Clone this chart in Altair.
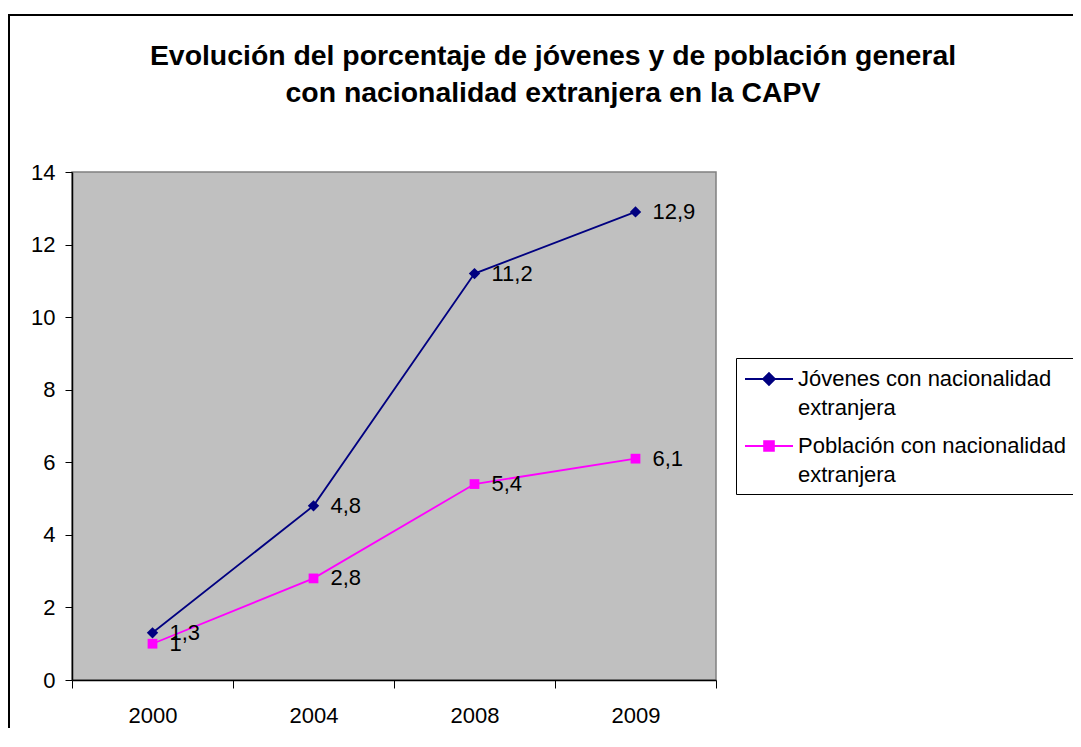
import altair as alt
import pandas as pd

# ---- data ----
years = ["2000", "2004", "2008", "2009"]
jovenes = [1.3, 4.8, 11.2, 12.9]
poblacion = [1.0, 2.8, 5.4, 6.1]
series = ["Jóvenes con nacionalidad extranjera", "Población con nacionalidad extranjera"]
colors = ["#000080", "#FF00FF"]
title_lines = ["Evolución del porcentaje de jóvenes y de población general",
               "con nacionalidad extranjera en la CAPV"]
y_ticks = [0, 2, 4, 6, 8, 10, 12, 14]

df = pd.DataFrame({
    "anio": years * 2,
    "serie": [series[0]] * len(years) + [series[1]] * len(years),
    "valor": jovenes + poblacion,
})
single = pd.DataFrame({"k": [0]})

FONT = "Liberation Sans"
FS = 22

x = alt.X("anio:N", sort=years, title=None,
          scale=alt.Scale(type="band", domain=years, paddingInner=0, paddingOuter=0),
          axis=alt.Axis(labelAngle=0, tickBand="extent", tickSize=8, labelPadding=17))
yscale = alt.Scale(domain=[0, 14], nice=False, zero=True)
y = alt.Y("valor:Q", title=None, scale=yscale,
          axis=alt.Axis(values=y_ticks, grid=False, tickSize=7, labelPadding=10))

base = alt.Chart(df)

frame = alt.Chart(single).mark_rect(fillOpacity=0, stroke="black", strokeWidth=2).encode(
    x=alt.value(-63), x2=alt.value(1400), y=alt.value(-157), y2=alt.value(1000))

title = alt.Chart(single).mark_text(
    text=title_lines, font=FONT, fontSize=28.4, fontWeight="bold", align="center",
    baseline="alphabetic", lineHeight=37, color="black"
).encode(x=alt.value(481), y=alt.value(-107))

shapes = ["diamond", "square"]
sizes = [130, 95]
series_layers = []
for s, c, sh, sz in zip(series, colors, shapes, sizes):
    sub = base.transform_filter(alt.datum.serie == s)
    series_layers.append(sub.mark_line(strokeWidth=1.8, color=c).encode(x=x, y=y))
    series_layers.append(sub.mark_point(filled=True, opacity=1, shape=sh, size=sz,
                                        strokeWidth=1, color=c).encode(x=x, y=y))

labels = base.transform_calculate(
    lbl="replace(format(datum.valor, '.1~f'), '.', ',')"
).mark_text(align="left", baseline="middle", dx=17, font=FONT, fontSize=FS, color="black").encode(
    x=x, y=y, text="lbl:N")

legend = alt.Legend(
    title=None, orient="none", legendX=664, legendY=186,
    strokeColor="black", padding=8, labelOffset=28, rowPadding=14,
    labelFont=FONT, labelFontSize=FS, labelColor="black", labelLimit=500,
    symbolSize=576, symbolStrokeWidth=2,
    labelExpr="[replace(datum.label, ' extranjera', ''), 'extranjera']",
)
sym_paths = [
    "M-1,0H3M1,-0.48L1.48,0L1,0.48L0.52,0Z",
    "M-1,0H3M0.6,-0.4H1.4V0.4H0.6Z",
]
# legend-only layer: its marks sit far above the y domain and are clipped away
legend_layer = base.transform_calculate(
    fuera="datum.valor + 100"
).mark_point(filled=True, opacity=1, strokeWidth=2, clip=True).encode(
    x=x,
    y=alt.Y("fuera:Q", title=None, scale=yscale),
    fill=alt.Fill("serie:N", scale=alt.Scale(domain=series, range=colors), legend=legend),
    stroke=alt.Stroke("serie:N", scale=alt.Scale(domain=series, range=colors), legend=legend),
    shape=alt.Shape("serie:N", scale=alt.Scale(domain=series, range=sym_paths), legend=legend),
)

chart = alt.layer(frame, title, *series_layers, labels, legend_layer).properties(
    width=644, height=508,
    padding={"left": 64, "top": 164, "right": 357, "bottom": 48},
    autosize=alt.AutoSizeParams(type="none"),
).configure(
    font=FONT,
    style={"guide-label": {"lineHeight": 29}},
).configure_view(
    fill="#C0C0C0", stroke="#808080", strokeWidth=1.5
).configure_axis(
    labelFont=FONT, labelFontSize=FS, labelColor="black",
    domainColor="black", domainWidth=1.5, tickColor="black", tickWidth=1,
)

chart.save("out.html", embed_options={"renderer": "svg", "actions": False})
